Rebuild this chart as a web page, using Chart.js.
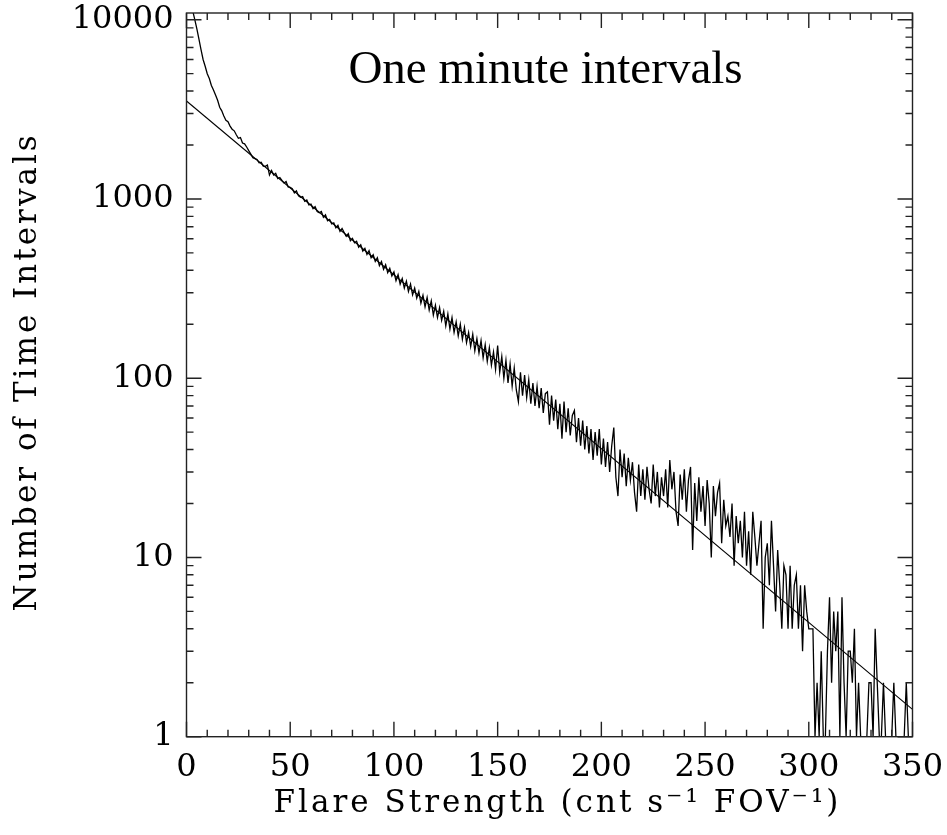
<!DOCTYPE html>
<html>
<head>
  <title>One minute intervals</title>
  <script src="https://cdn.jsdelivr.net/npm/chart.js"></script>
  <style>
    body { margin: 0; background: #fff; }
    #wrap { width: 947px; height: 835px; }
  </style>
</head>
<body>
  <div id="wrap"><canvas id="flareChart"></canvas></div>
  <script>
    // histogram of one-minute flare strengths, 1 cnt/s bins starting at 1
    const binWidth = 1;
    const counts = [
      14500, 12600, 11200, 10000, 8900, 7800, 6800, 6000, 5500, 5000,
      4700, 4300, 4050, 3800, 3550, 3250, 3100, 2900, 2750, 2700,
      2550, 2450, 2400, 2280, 2180, 2200, 2050, 2030, 1950, 1860,
      1780, 1700, 1680, 1660, 1590, 1600, 1525, 1520, 1545, 1360,
      1440, 1362, 1392, 1300, 1318, 1270, 1228, 1250, 1168, 1160,
      1142, 1082, 1110, 1040, 1022, 1030, 970, 988, 925, 935,
      882, 905, 850, 838, 852, 790, 815, 755, 768, 726,
      735, 690, 712, 660, 684, 650, 618, 640, 585, 602,
      570, 580, 538, 555, 512, 530, 490, 515, 470, 488,
      448, 470, 425, 448, 405, 430, 388, 410, 372, 392,
      350, 378, 335, 360, 318, 348, 305, 335, 292, 318,
      280, 305, 262, 290, 250, 282, 240, 270, 225, 255,
      218, 248, 210, 236, 196, 228, 188, 218, 180, 206,
      172, 200, 165, 192, 158, 180, 150, 176, 142, 166,
      138, 162, 130, 154, 124, 148, 118, 140, 112, 152,
      108, 132, 100, 126, 94, 120, 90, 114, 86, 74,
      108, 80, 104, 78, 98, 72, 94, 70, 90, 68,
      88, 64, 82, 84, 55, 80, 58, 76, 52, 72,
      46, 74, 50, 68, 48, 62, 66, 44, 60, 42,
      58, 40, 54, 38, 52, 35, 50, 37, 52, 33,
      46, 32, 44, 30, 42, 53, 28, 22, 40, 28,
      38, 25, 36, 27, 34, 23, 18, 33, 22, 31,
      21, 32, 24, 20, 33, 22, 30, 19, 28, 22,
      31, 19, 35, 24, 30, 18, 15, 29, 21, 31,
      18, 27, 32, 11, 26, 16, 28, 18, 25, 15,
      27, 20, 10, 25, 17, 23, 26, 12, 21, 15,
      17, 13, 20, 9, 17, 12, 16, 10, 18, 9,
      14, 8, 18, 13, 9, 12, 16, 4, 10, 12,
      7, 16, 9, 5, 11, 7, 4, 9, 8, 4,
      9, 4, 7, 8, 4, 7, 3, 7, 5, 4,
      4, 4, 1, 2, 1, 3, 1, 1, 3, 6,
      2, 5, 3, 5, 1, 6, 2, 1, 3, 3,
      2, 4, 1, 2, 1, 1, 1, 1, 2, 2,
      1, 4, 2, 1, 1, 2, 1, 1, 1, 1,
      2, 1, 1, 1, 1, 1, 2, 1, 1, 1
    ];
    const bins = counts.map((_, i) => (i + 1) * binWidth);

    // exponential fit, drawn as a straight line on the log axis
    const fitX = [0, 350];
    const fitY = [3520, 1.42];

    const xTicks = [0, 50, 100, 150, 200, 250, 300, 350];
    const yTicks = [1, 10, 100, 1000, 10000];

    const chartTitle = 'One minute intervals';
    const xTitle = 'Flare Strength (cnt s\u207B\u00B9 FOV\u207B\u00B9)';
    const yTitle = 'Number of Time Intervals';

    const labelFont = 'DejaVu Serif';

    // box round the plot with inward ticks on all four sides (IDL style)
    const framePlugin = {
      id: 'frame',
      afterDatasetsDraw(chart) {
        const { ctx, chartArea: a, scales: { x, y } } = chart;
        ctx.save();
        ctx.strokeStyle = '#222';
        ctx.lineWidth = 1.4;
        ctx.strokeRect(a.left, a.top, a.right - a.left, a.bottom - a.top);
        ctx.beginPath();
        for (let v = x.min; v <= x.max; v += 10) {
          const px = x.getPixelForValue(v);
          const len = v % 50 === 0 ? 15 : 7;
          ctx.moveTo(px, a.bottom); ctx.lineTo(px, a.bottom - len);
          ctx.moveTo(px, a.top); ctx.lineTo(px, a.top + len);
        }
        for (let d = 1; d <= y.max; d *= 10) {
          for (let m = 1; m <= 9; m++) {
            const v = d * m;
            if (v > y.max) break;
            const py = y.getPixelForValue(v);
            const len = m === 1 ? 15 : 7;
            ctx.moveTo(a.left, py); ctx.lineTo(a.left + len, py);
            ctx.moveTo(a.right, py); ctx.lineTo(a.right - len, py);
          }
        }
        ctx.stroke();
        ctx.restore();
      },
      afterDraw(chart) {
        const { ctx, chartArea: a } = chart;
        ctx.save();
        ctx.fillStyle = '#000';
        ctx.textAlign = 'center';
        ctx.textBaseline = 'middle';
        ctx.font = '47px "Liberation Serif"';
        ctx.fillText(chartTitle, a.left + 359, a.top + 58);

        ctx.font = '31px "' + labelFont + '"';
        ctx.letterSpacing = '3px';
        ctx.fillText(xTitle, (a.left + a.right) / 2 + 8, 804);
        ctx.translate(28, (a.top + a.bottom) / 2 - 3);
        ctx.rotate(-Math.PI / 2);
        ctx.fillText(yTitle, 0, 0);
        ctx.restore();
      }
    };

    new Chart(document.getElementById('flareChart'), {
      type: 'line',
      data: {
        datasets: [
          {
            label: 'Counts',
            data: bins.map((b, i) => ({ x: b, y: counts[i] })),
            borderColor: '#000',
            borderWidth: 1.3,
            pointRadius: 0,
            tension: 0
          },
          {
            label: 'Fit',
            data: fitX.map((v, i) => ({ x: v, y: fitY[i] })),
            borderColor: '#000',
            borderWidth: 1.1,
            pointRadius: 0,
            tension: 0
          }
        ]
      },
      options: {
        responsive: true,
        maintainAspectRatio: false,
        animation: false,
        layout: { padding: { top: 13, right: 34.5, left: 0, bottom: 0 } },
        plugins: {
          legend: { display: false },
          tooltip: { enabled: false }
        },
        scales: {
          x: {
            type: 'linear',
            min: 0,
            max: 350,
            grid: { display: false, drawTicks: false },
            border: { display: false },
            afterFit: (s) => { s.height = 98.3; s.paddingLeft = 0; s.paddingRight = 0; },
            afterBuildTicks: (s) => { s.ticks = xTicks.map(v => ({ value: v })); },
            ticks: {
              color: '#000',
              padding: 12,
              maxRotation: 0,
              font: { family: labelFont, size: 32 }
            }
          },
          y: {
            type: 'logarithmic',
            min: 1,
            max: 10900,
            grid: { display: false, drawTicks: false },
            border: { display: false },
            afterFit: (s) => { s.width = 186.5; s.paddingTop = 0; s.paddingBottom = 0; },
            afterBuildTicks: (s) => { s.ticks = yTicks.map(v => ({ value: v })); },
            ticks: {
              color: '#000',
              padding: 13,
              font: { family: labelFont, size: 32 },
              callback: (v) => String(v)
            }
          }
        }
      },
      plugins: [framePlugin]
    });
  </script>
</body>
</html>
